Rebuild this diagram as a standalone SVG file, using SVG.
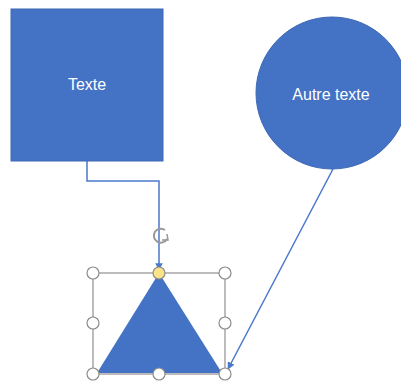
<svg xmlns="http://www.w3.org/2000/svg" width="401" height="381" viewBox="0 0 401 381">
<defs>
<style>
.shape{fill:#4472C4;stroke:#3d68b5;stroke-width:1}
.lbl{font-family:"Liberation Sans",Arial,sans-serif;font-size:16px;fill:#ffffff;text-anchor:middle}
.conn{fill:none;stroke:#4a78cc;stroke-width:1.5}
.sel{fill:none;stroke:#a6a6a6;stroke-width:1.5}
.h{fill:#ffffff;stroke:#8c8c8c;stroke-width:1.2}
</style>
<marker id="arr" viewBox="0 0 10 10" refX="9" refY="5" markerWidth="5" markerHeight="5" orient="auto-start-reverse">
<path d="M0,0 L10,5 L0,10 z" fill="#4a78cc"/>
</marker>
</defs>
<rect width="401" height="381" fill="#ffffff"/>
<g id="connectors">
<path class="conn" d="M87,161 V181 H159 V270" marker-end="url(#arr)"/>
<path class="conn" d="M333,169 L228,369" marker-end="url(#arr)"/>
</g>
<g id="square">
<rect class="shape" x="11" y="9" width="152" height="152"/>
<text class="lbl" x="87" y="90">Texte</text>
</g>
<g id="circle">
<circle class="shape" cx="332" cy="93" r="76"/>
<text class="lbl" x="331" y="100">Autre texte</text>
</g>
<g id="triangle">
<rect class="sel" x="93" y="273" width="132" height="101"/>
<polygon points="159,273 97,373 222,373" fill="#4472C4"/>
<g id="rotate" fill="none" stroke="#999" stroke-width="2">
<path d="M165,230 A7,7 0 1 0 167,239"/>
<path d="M167,234 L168,240 L162,240" stroke-width="1.5"/>
</g>
<circle class="h" cx="93" cy="273" r="6"/>
<circle class="h" cx="225" cy="273" r="6"/>
<circle class="h" cx="93" cy="323" r="6"/>
<circle class="h" cx="225" cy="323" r="6"/>
<circle class="h" cx="93" cy="374" r="6"/>
<circle class="h" cx="159" cy="374" r="6"/>
<circle class="h" cx="225" cy="374" r="6"/>
<circle cx="159" cy="273" r="6" fill="#fbe38a" stroke="#8c8c8c" stroke-width="1.2"/>
</g>
</svg>
